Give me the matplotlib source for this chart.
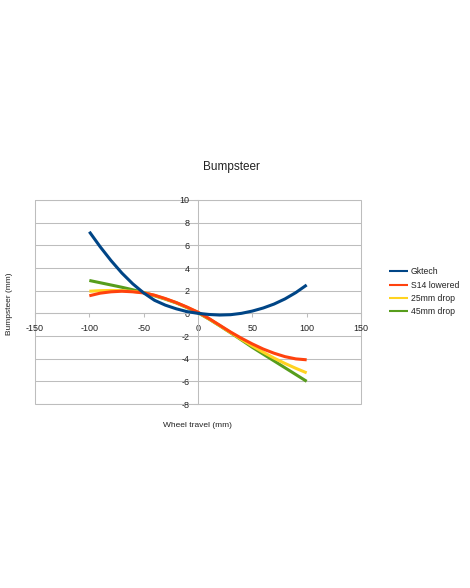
import numpy as np
import matplotlib
matplotlib.use("Agg")
import matplotlib.pyplot as plt

plt.rcParams['font.family'] = ['Liberation Sans', 'DejaVu Sans']
plt.rcParams['axes.unicode_minus'] = False

# wheel travel (mm), every 10 mm
travel = [-100, -90, -80, -70, -60, -50, -40, -30, -20, -10, 0,
          10, 20, 30, 40, 50, 60, 70, 80, 90, 100]

gktech = [7.2, 5.87, 4.65, 3.55, 2.6, 1.8, 1.15, 0.72, 0.4, 0.15, 0.0,
          -0.1, -0.15, -0.12, 0.0, 0.2, 0.47, 0.82, 1.27, 1.83, 2.5]
s14_lowered = [1.55, 1.78, 1.9, 1.95, 1.9, 1.8, 1.6, 1.3, 0.95, 0.55, 0.1,
               -0.45, -1.05, -1.65, -2.2, -2.7, -3.15, -3.52, -3.82, -4.02, -4.1]
drop_25 = [1.95, 2.0, 2.02, 2.0, 1.93, 1.83, 1.58, 1.28, 0.94, 0.52, 0.08,
           -0.48, -1.08, -1.7, -2.3, -2.88, -3.43, -3.95, -4.42, -4.85, -5.25]
drop_45 = [2.9, 2.7, 2.5, 2.3, 2.08, 1.83, 1.55, 1.25, 0.92, 0.5, 0.05,
           -0.5, -1.1, -1.72, -2.35, -3.0, -3.6, -4.2, -4.8, -5.4, -6.0]

labels = ['Gktech', 'S14 lowered', '25mm drop', '45mm drop']
colors = ['#004586', '#ff420e', '#ffd320', '#579d1c']
series = [gktech, s14_lowered, drop_25, drop_45]

xticks = [-150, -100, -50, 0, 50, 100, 150]
yticks = [-8, -6, -4, -2, 0, 2, 4, 6, 8, 10]

fig = plt.figure(figsize=(4.70, 5.88), dpi=100)
ax = fig.add_axes([35 / 470, 1 - 404 / 588, 326 / 470, 204 / 588])

grid_c = '#bdbdbd'
for y in yticks:
    ax.axhline(y, color=grid_c, linewidth=0.75, zorder=0)

# later series under earlier ones
lines = []
for i in range(len(series) - 1, -1, -1):
    ln, = ax.plot(travel, series[i], color=colors[i], linewidth=2.2,
                  solid_capstyle='butt', solid_joinstyle='round',
                  label=labels[i], zorder=3 + (4 - i))
    lines.insert(0, ln)

ax.set_xlim(-150, 150)
ax.set_ylim(-8, 10)
ax.set_xticks(xticks)
ax.set_yticks(yticks)

# axes cross at zero, plot area gets a grey frame
ax.spines['left'].set_position(('data', 0))
ax.spines['bottom'].set_position(('data', 0))
for s in ['left', 'bottom']:
    ax.spines[s].set_color(grid_c)
    ax.spines[s].set_linewidth(0.75)
for s in ['right', 'top']:
    ax.spines[s].set_visible(False)
ax.patch.set_edgecolor(grid_c)
ax.patch.set_linewidth(0.75)

ax.tick_params(axis='both', labelsize=6.5, colors=grid_c, labelcolor='#222222',
               length=3, width=0.75, direction='out')
ax.tick_params(axis='x', pad=4.5)
ax.tick_params(axis='y', pad=3)

ax.set_xlabel('Wheel travel (mm)', fontsize=6, color='#222222')
ax.set_ylabel('Bumpsteer (mm)', fontsize=6, color='#222222')
ax.xaxis.set_label_coords(0.497, -0.088)
ax.yaxis.set_label_coords(-0.068, 0.49)

fig.text(0.492, 1 - 167 / 588, 'Bumpsteer', fontsize=8.5, color='#222222',
         ha='center', va='center')

leg = fig.legend(lines, labels, loc='upper left',
                 bbox_to_anchor=(386 / 470, 1 - 264 / 588),
                 frameon=False, fontsize=6.2, handlelength=2.2,
                 handletextpad=0.3, labelspacing=0.5, borderaxespad=0)
for h in leg.legend_handles:
    h.set_linewidth(1.5)
for t in leg.get_texts():
    t.set_color('#222222')

fig.savefig('out.png', dpi=100)
